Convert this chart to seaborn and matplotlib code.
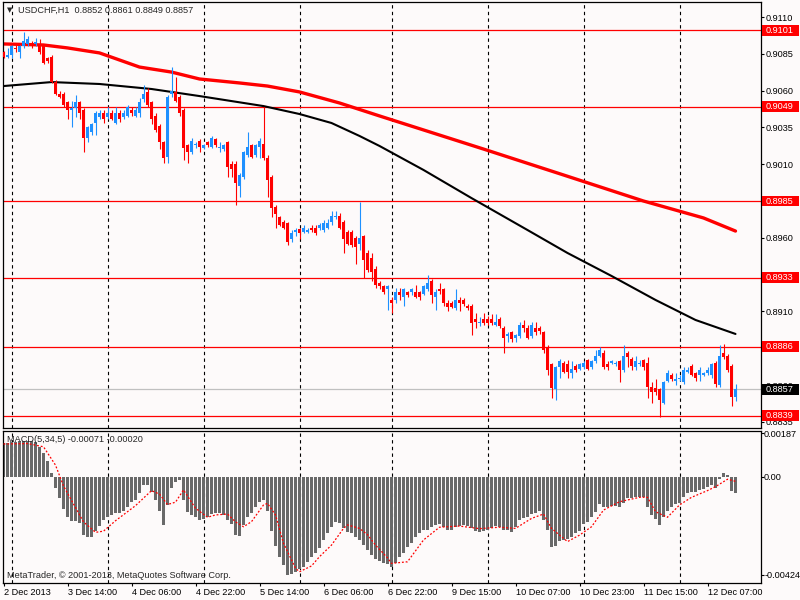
import numpy as np
import matplotlib
matplotlib.use('Agg')
import matplotlib.pyplot as plt
import matplotlib.transforms as mtransforms
from matplotlib.patches import Rectangle
import seaborn as sns

# USDCHF H1 bars, 2 Dec 2013 22:00 .. 12 Dec 2013 14:00
opens = [
    0.9086, 0.9083, 0.9084, 0.9089, 0.9086, 0.9090, 0.9092, 0.9092, 0.9092, 0.9092, 0.9090, 0.9082,
    0.9083, 0.9066, 0.9058, 0.9058, 0.9052, 0.9047, 0.9048, 0.9052, 0.9047, 0.9028, 0.9032, 0.9038,
    0.9042, 0.9045, 0.9042, 0.9045, 0.9038, 0.9045, 0.9042, 0.9043, 0.9047, 0.9043, 0.9045, 0.9054,
    0.9059, 0.9052, 0.9043, 0.9036, 0.9025, 0.9015, 0.9058, 0.9059, 0.9056, 0.9047, 0.9023, 0.9018,
    0.9023, 0.9026, 0.9021, 0.9025, 0.9022, 0.9027, 0.9021, 0.9020, 0.9025, 0.9010, 0.9010, 0.8995,
    0.9001, 0.9016, 0.9023, 0.9016, 0.9022, 0.9024, 0.9014, 0.9001, 0.8981, 0.8974, 0.8971, 0.8970,
    0.8959, 0.8964, 0.8966, 0.8964, 0.8964, 0.8967, 0.8967, 0.8967, 0.8965, 0.8967, 0.8971, 0.8974,
    0.8975, 0.8971, 0.8964, 0.8964, 0.8960, 0.8956, 0.8961, 0.8950, 0.8946, 0.8939, 0.8929, 0.8927,
    0.8925, 0.8918, 0.8918, 0.8923, 0.8920, 0.8923, 0.8923, 0.8923, 0.8923, 0.8922, 0.8925, 0.8931,
    0.8920, 0.8925, 0.8925, 0.8916, 0.8916, 0.8912, 0.8918, 0.8918, 0.8914, 0.8914, 0.8905, 0.8902,
    0.8905, 0.8905, 0.8905, 0.8901, 0.8905, 0.8899, 0.8893, 0.8896, 0.8892, 0.8893, 0.8901, 0.8899,
    0.8893, 0.8899, 0.8899, 0.8896, 0.8886, 0.8874, 0.8857, 0.8872, 0.8875, 0.8874, 0.8868, 0.8873,
    0.8871, 0.8872, 0.8877, 0.8872, 0.8876, 0.8880, 0.8882, 0.8874, 0.8875, 0.8874, 0.8876, 0.8870,
    0.8882, 0.8878, 0.8872, 0.8874, 0.8877, 0.8875, 0.8859, 0.8858, 0.8857, 0.8848, 0.8863, 0.8867,
    0.8863, 0.8864, 0.8862, 0.8869, 0.8873, 0.8868, 0.8867, 0.8867, 0.8868, 0.8867, 0.8875, 0.8860,
    0.8882, 0.8880, 0.8873, 0.8852,
]
closes = [
    0.9083, 0.9084, 0.9090, 0.9088, 0.9090, 0.9094, 0.9095, 0.9090, 0.9093, 0.9086, 0.9079, 0.9080,
    0.9066, 0.9058, 0.9056, 0.9050, 0.9047, 0.9048, 0.9052, 0.9045, 0.9028, 0.9035, 0.9037, 0.9045,
    0.9045, 0.9041, 0.9045, 0.9041, 0.9045, 0.9041, 0.9045, 0.9049, 0.9045, 0.9047, 0.9052, 0.9058,
    0.9050, 0.9041, 0.9033, 0.9025, 0.9014, 0.9056, 0.9060, 0.9053, 0.9045, 0.9021, 0.9018, 0.9026,
    0.9024, 0.9022, 0.9023, 0.9023, 0.9028, 0.9023, 0.9022, 0.9023, 0.9008, 0.9007, 0.8997, 0.9003,
    0.9018, 0.9022, 0.9015, 0.9023, 0.9026, 0.9014, 0.8999, 0.8980, 0.8976, 0.8969, 0.8967, 0.8957,
    0.8963, 0.8965, 0.8963, 0.8967, 0.8965, 0.8965, 0.8963, 0.8969, 0.8970, 0.8970, 0.8975, 0.8975,
    0.8967, 0.8959, 0.8956, 0.8955, 0.8954, 0.8960, 0.8945, 0.8938, 0.8937, 0.8928, 0.8927, 0.8923,
    0.8927, 0.8916, 0.8923, 0.8921, 0.8925, 0.8921, 0.8925, 0.8920, 0.8920, 0.8927, 0.8929, 0.8921,
    0.8923, 0.8924, 0.8916, 0.8913, 0.8913, 0.8918, 0.8916, 0.8915, 0.8912, 0.8902, 0.8903, 0.8903,
    0.8902, 0.8902, 0.8902, 0.8903, 0.8900, 0.8892, 0.8895, 0.8891, 0.8894, 0.8901, 0.8899, 0.8892,
    0.8901, 0.8896, 0.8897, 0.8884, 0.8870, 0.8858, 0.8872, 0.8876, 0.8869, 0.8869, 0.8871, 0.8870,
    0.8874, 0.8875, 0.8871, 0.8876, 0.8880, 0.8884, 0.8872, 0.8872, 0.8876, 0.8875, 0.8870, 0.8880,
    0.8879, 0.8873, 0.8876, 0.8875, 0.8872, 0.8859, 0.8855, 0.8855, 0.8850, 0.8862, 0.8868, 0.8864,
    0.8864, 0.8865, 0.8870, 0.8870, 0.8867, 0.8865, 0.8870, 0.8868, 0.8870, 0.8874, 0.8861, 0.8880,
    0.8879, 0.8870, 0.8852, 0.8857,
]
highs = [
    0.9087, 0.9089, 0.9091, 0.9091, 0.9091, 0.9100, 0.9097, 0.9094, 0.9096, 0.9095, 0.9091, 0.9083,
    0.9084, 0.9067, 0.9060, 0.9059, 0.9053, 0.9053, 0.9057, 0.9053, 0.9048, 0.9036, 0.9038, 0.9046,
    0.9047, 0.9047, 0.9049, 0.9047, 0.9049, 0.9047, 0.9047, 0.9050, 0.9049, 0.9049, 0.9055, 0.9064,
    0.9062, 0.9053, 0.9045, 0.9037, 0.9026, 0.9057, 0.9076, 0.9069, 0.9057, 0.9048, 0.9024, 0.9028,
    0.9025, 0.9027, 0.9024, 0.9026, 0.9029, 0.9028, 0.9025, 0.9024, 0.9026, 0.9012, 0.9012, 0.9004,
    0.9019, 0.9032, 0.9024, 0.9024, 0.9028, 0.9049, 0.9016, 0.9003, 0.8982, 0.8975, 0.8972, 0.8971,
    0.8965, 0.8967, 0.8967, 0.8969, 0.8967, 0.8969, 0.8969, 0.8970, 0.8972, 0.8973, 0.8978, 0.8978,
    0.8977, 0.8972, 0.8965, 0.8965, 0.8961, 0.8984, 0.8962, 0.8952, 0.8950, 0.8941, 0.8931, 0.8928,
    0.8928, 0.8920, 0.8926, 0.8926, 0.8926, 0.8924, 0.8926, 0.8928, 0.8924, 0.8928, 0.8935, 0.8932,
    0.8925, 0.8929, 0.8926, 0.8918, 0.8917, 0.8925, 0.8920, 0.8919, 0.8915, 0.8915, 0.8909, 0.8906,
    0.8909, 0.8907, 0.8908, 0.8908, 0.8906, 0.8900, 0.8896, 0.8897, 0.8895, 0.8903, 0.8904, 0.8901,
    0.8903, 0.8903, 0.8900, 0.8897, 0.8887, 0.8875, 0.8873, 0.8878, 0.8876, 0.8877, 0.8876, 0.8874,
    0.8875, 0.8876, 0.8878, 0.8877, 0.8884, 0.8886, 0.8884, 0.8876, 0.8877, 0.8876, 0.8877, 0.8887,
    0.8883, 0.8879, 0.8880, 0.8877, 0.8878, 0.8879, 0.8862, 0.8864, 0.8858, 0.8863, 0.8870, 0.8868,
    0.8868, 0.8867, 0.8872, 0.8872, 0.8874, 0.8869, 0.8872, 0.8869, 0.8872, 0.8875, 0.8876, 0.8887,
    0.8888, 0.8881, 0.8874, 0.8861,
]
lows = [
    0.9082, 0.9082, 0.9082, 0.9086, 0.9082, 0.9089, 0.9090, 0.9089, 0.9090, 0.9085, 0.9078, 0.9079,
    0.9065, 0.9057, 0.9055, 0.9049, 0.9041, 0.9035, 0.9042, 0.9041, 0.9018, 0.9025, 0.9030, 0.9030,
    0.9041, 0.9038, 0.9041, 0.9040, 0.9037, 0.9039, 0.9041, 0.9042, 0.9043, 0.9042, 0.9042, 0.9052,
    0.9049, 0.9037, 0.9032, 0.9020, 0.9011, 0.9011, 0.9056, 0.9052, 0.9043, 0.9013, 0.9011, 0.9017,
    0.9021, 0.9018, 0.9020, 0.9022, 0.9021, 0.9022, 0.9018, 0.9019, 0.9001, 0.9001, 0.8982, 0.8988,
    0.9000, 0.9015, 0.9014, 0.9015, 0.9014, 0.9013, 0.8988, 0.8974, 0.8967, 0.8968, 0.8966, 0.8955,
    0.8957, 0.8961, 0.8959, 0.8963, 0.8963, 0.8964, 0.8962, 0.8965, 0.8964, 0.8966, 0.8969, 0.8973,
    0.8966, 0.8950, 0.8955, 0.8954, 0.8942, 0.8952, 0.8933, 0.8937, 0.8931, 0.8926, 0.8925, 0.8922,
    0.8911, 0.8909, 0.8916, 0.8918, 0.8914, 0.8920, 0.8921, 0.8919, 0.8918, 0.8921, 0.8924, 0.8916,
    0.8911, 0.8922, 0.8914, 0.8910, 0.8912, 0.8911, 0.8910, 0.8914, 0.8911, 0.8894, 0.8899, 0.8900,
    0.8901, 0.8901, 0.8901, 0.8900, 0.8899, 0.8882, 0.8889, 0.8889, 0.8889, 0.8892, 0.8896, 0.8891,
    0.8892, 0.8894, 0.8895, 0.8882, 0.8867, 0.8851, 0.8850, 0.8865, 0.8868, 0.8865, 0.8865, 0.8869,
    0.8870, 0.8871, 0.8870, 0.8871, 0.8875, 0.8879, 0.8871, 0.8870, 0.8874, 0.8873, 0.8862, 0.8869,
    0.8872, 0.8870, 0.8870, 0.8873, 0.8870, 0.8851, 0.8848, 0.8853, 0.8838, 0.8847, 0.8862, 0.8863,
    0.8860, 0.8863, 0.8861, 0.8868, 0.8866, 0.8863, 0.8863, 0.8866, 0.8867, 0.8865, 0.8859, 0.8859,
    0.8878, 0.8869, 0.8846, 0.8849,
]

# moving averages, read at a few bars
ma_red_bars = [0, 10, 16, 24, 34, 42, 49, 59, 66, 74, 84, 94, 120, 140, 160, 175, 183]
ma_red = [0.90917, 0.90910, 0.90890, 0.90856, 0.90760, 0.90726, 0.90679, 0.90652, 0.90631,
          0.90591, 0.90516, 0.90428, 0.90203, 0.90027, 0.89850, 0.89735, 0.89646]
ma_black_bars = [0, 12, 24, 37, 49, 65, 74, 82, 89, 94, 105, 117, 131, 141, 152, 163, 173, 183]
ma_black = [0.90631, 0.90658, 0.90645, 0.90611, 0.90563, 0.90495, 0.90441, 0.90380, 0.90292,
            0.90224, 0.90061, 0.89870, 0.89653, 0.89497, 0.89341, 0.89178, 0.89042, 0.88947]

# MACD(5,34,5) histogram, one value per bar
macd_hist = [
    0.00144, 0.00144, 0.00151, 0.00151, 0.00155, 0.00155, 0.00155, 0.00155, 0.00151, 0.00129, 0.00101, 0.00069,
    0.00015, -0.00050, -0.00093, -0.00141, -0.00173, -0.00190, -0.00190, -0.00198, -0.00252, -0.00262, -0.00262, -0.00233,
    -0.00213, -0.00187, -0.00173, -0.00165, -0.00155, -0.00155, -0.00147, -0.00129, -0.00108, -0.00101, -0.00069, -0.00036,
    -0.00036, -0.00065, -0.00101, -0.00147, -0.00208, -0.00122, -0.00050, -0.00022, -0.00014, -0.00101, -0.00151, -0.00165,
    -0.00173, -0.00187, -0.00184, -0.00173, -0.00161, -0.00158, -0.00155, -0.00165, -0.00187, -0.00204, -0.00252, -0.00256,
    -0.00208, -0.00173, -0.00155, -0.00132, -0.00108, -0.00101, -0.00147, -0.00233, -0.00299, -0.00348, -0.00381, -0.00424,
    -0.00420, -0.00410, -0.00400, -0.00388, -0.00367, -0.00348, -0.00331, -0.00309, -0.00273, -0.00244, -0.00216, -0.00194,
    -0.00201, -0.00223, -0.00237, -0.00244, -0.00259, -0.00273, -0.00295, -0.00316, -0.00338, -0.00356, -0.00365, -0.00374,
    -0.00377, -0.00391, -0.00371, -0.00345, -0.00328, -0.00305, -0.00285, -0.00262, -0.00244, -0.00230, -0.00230, -0.00216,
    -0.00208, -0.00204, -0.00219, -0.00230, -0.00228, -0.00216, -0.00213, -0.00208, -0.00213, -0.00222, -0.00233, -0.00237,
    -0.00233, -0.00230, -0.00222, -0.00212, -0.00219, -0.00230, -0.00230, -0.00237, -0.00216, -0.00187, -0.00180, -0.00173,
    -0.00161, -0.00158, -0.00147, -0.00187, -0.00230, -0.00302, -0.00299, -0.00276, -0.00273, -0.00270, -0.00259, -0.00244,
    -0.00233, -0.00204, -0.00194, -0.00173, -0.00151, -0.00118, -0.00132, -0.00129, -0.00126, -0.00126, -0.00129, -0.00112,
    -0.00093, -0.00093, -0.00089, -0.00086, -0.00089, -0.00132, -0.00165, -0.00184, -0.00208, -0.00173, -0.00147, -0.00132,
    -0.00118, -0.00112, -0.00089, -0.00069, -0.00065, -0.00065, -0.00057, -0.00055, -0.00043, -0.00036, -0.00050, -0.00011,
    0.00017, 0.00007, -0.00060, -0.00071,
]
signal_bars = [0, 6, 10, 13, 15, 20, 23, 25, 28, 33, 37, 39, 41, 43, 45, 48, 51, 53, 56, 58,
               60, 62, 65, 66, 68, 70, 73, 74, 77, 79, 82, 85, 86, 89, 91, 93, 96, 97, 101, 105,
               109, 114, 119, 124, 128, 132, 135, 137, 141, 144, 147, 150, 154, 159, 161, 163, 166,
               169, 172, 176, 178, 181, 183]
signal = [0.00141, 0.00143, 0.00129, 0.00050, -0.00040, -0.00195, -0.00240, -0.00235, -0.00190, -0.00125,
          -0.00060, -0.00075, -0.00120, -0.00110, -0.00057, -0.00136, -0.00175, -0.00165, -0.00161, -0.00195,
          -0.00216, -0.00194, -0.00122, -0.00115, -0.00165, -0.00287, -0.00395, -0.00410, -0.00385, -0.00345,
          -0.00295, -0.00223, -0.00208, -0.00223, -0.00250, -0.00295, -0.00350, -0.00374, -0.00367, -0.00273,
          -0.00218, -0.00213, -0.00224, -0.00218, -0.00223, -0.00180, -0.00161, -0.00223, -0.00280, -0.00252,
          -0.00216, -0.00144, -0.00108, -0.00089, -0.00089, -0.00151, -0.00175, -0.00122, -0.00089, -0.00060,
          -0.00043, -0.00011, -0.00020]

levels = [0.9101, 0.9049, 0.8985, 0.8933, 0.8886, 0.8839]
bid = 0.8857
price_ticks = [0.9110, 0.9085, 0.9060, 0.9035, 0.9010, 0.8985, 0.8960, 0.8935, 0.8910, 0.8885, 0.8860, 0.8835]
# scale labels that sit fully under a level box are not drawn by the terminal
covered_ticks = [0.8985, 0.8935, 0.8885]
macd_ticks = [0.00187, 0.0, -0.00424]
macd_tick_labels = ['0.00187', '0.00', '-0.00424']
day_start_bars = [2, 26, 50, 74, 97, 121, 145, 169]
date_label_bars = [0, 16, 32, 48, 64, 80, 96, 112, 128, 144, 160, 176]
date_labels = ['2 Dec 2013', '3 Dec 14:00', '4 Dec 06:00', '4 Dec 22:00', '5 Dec 14:00', '6 Dec 06:00',
               '6 Dec 22:00', '9 Dec 15:00', '10 Dec 07:00', '10 Dec 23:00', '11 Dec 15:00', '12 Dec 07:00']

BG = '#fdfafa'
UP = '#1e90ff'
DOWN = '#ff0000'

sns.set_style('white')
plt.rcParams['font.family'] = ['Liberation Sans', 'DejaVu Sans']
plt.rcParams['font.size'] = 6.6

W, H = 800, 600
def pane(x0, y0, x1, y1):
    return [x0 / W, 1 - y1 / H, (x1 - x0) / W, (y1 - y0) / H]

fig = plt.figure(figsize=(8, 6), dpi=100, facecolor=BG)
ax = fig.add_axes(pane(2.5, 1.7, 760.5, 427.5), facecolor=BG)
axm = fig.add_axes(pane(2.5, 430.7, 760.5, 582.5), facecolor=BG)

o, h, l, c = map(np.array, (opens, highs, lows, closes))
bars = np.arange(len(c))
cols = np.where(c >= o, UP, DOWN)

# --- price pane
for b in day_start_bars:
    ax.axvline(b, color='black', lw=0.8, ls=(0, (3, 3)), zorder=1)
for lv in levels:
    ax.axhline(lv, color='red', lw=0.9, zorder=1.5)
ax.axhline(bid, color='#c0c0c0', lw=0.9, zorder=1.5)

sns.lineplot(x=ma_red_bars, y=ma_red, ax=ax, color='#ff0000', lw=2.4, zorder=2)
sns.lineplot(x=ma_black_bars, y=ma_black, ax=ax, color='black', lw=1.5, zorder=2)

ax.vlines(bars, l, h, colors=cols, lw=0.8, zorder=3)
body = np.maximum(np.abs(c - o), 0.00007)
ax.bar(bars, body, bottom=np.minimum(o, c), width=0.75, color=cols, linewidth=0, zorder=4)

ax.set_xlim(-0.25, 189.25)
ax.set_ylim(0.883115, 0.912040)
ax.set_xticks([])
ax.yaxis.tick_right()
ax.set_yticks(price_ticks)
ax.set_yticklabels(['' if t in covered_ticks else f'{t:.4f}' for t in price_ticks])
ax.tick_params(axis='y', direction='out', length=2.5, width=0.8, pad=1.5, colors='black', right=True, left=False)
ax.set_xlabel('')
ax.set_ylabel('')

trans = mtransforms.blended_transform_factory(ax.transAxes, ax.transData)
box_x0 = (762 - 2.5) / 758
box_w = (799 - 762) / 758
for lv, face in [(v, 'red') for v in levels] + [(bid, 'black')]:
    ax.add_patch(Rectangle((box_x0, lv - 0.00037), box_w, 0.00074, transform=trans,
                           facecolor=face, edgecolor='none', clip_on=False, zorder=9))
    ax.text((766 - 2.5) / 758, lv, f'{lv:.4f}', transform=trans, color='white',
            va='center', ha='left', clip_on=False, zorder=10)

# --- MACD pane
for b in day_start_bars:
    axm.axvline(b, color='black', lw=0.8, ls=(0, (3, 3)), zorder=1)
sns.barplot(x=bars, y=macd_hist, ax=axm, native_scale=True, width=0.75, color='#696969',
            saturation=1, linewidth=0, errorbar=None, zorder=2)
sns.lineplot(x=signal_bars, y=signal, ax=axm, color='red', lw=0.9, zorder=3)
axm.lines[-1].set_linestyle((0, (1.5, 1.5)))

axm.set_xlim(-0.25, 189.25)
axm.set_ylim(-0.004564, 0.001984)
axm.yaxis.tick_right()
axm.set_yticks(macd_ticks)
axm.set_yticklabels(macd_tick_labels)
axm.tick_params(axis='y', direction='out', length=2.0, width=0.8, pad=0.6, colors='black', right=True, left=False)
axm.set_xticks(date_label_bars)
axm.set_xticklabels(date_labels)
for lbl in axm.get_xticklabels():
    lbl.set_horizontalalignment('left')
axm.tick_params(axis='x', direction='out', length=2.5, width=0.8, pad=1.5, colors='black', bottom=True)
axm.set_xlabel('')
axm.set_ylabel('')

for a in (ax, axm):
    for sp in a.spines.values():
        sp.set_color('black')
        sp.set_linewidth(0.9)
        sp.set_visible(True)

fig.text(6.5 / W, 1 - 10.5 / H, '\u25bc', fontsize=5, family=['DejaVu Sans'], va='center', ha='left')
fig.text(18 / W, 1 - 10.5 / H, 'USDCHF,H1  0.8852 0.8861 0.8849 0.8857', va='center', ha='left')
fig.text(7 / W, 1 - 439.5 / H, 'MACD(5,34,5) -0.00071 -0.00020', va='center', ha='left', zorder=10)
fig.text(7 / W, 1 - 575 / H, 'MetaTrader, \u00a9 2001-2013, MetaQuotes Software Corp.', va='center', ha='left', zorder=10)

fig.savefig('out.png', dpi=100, facecolor=BG)
